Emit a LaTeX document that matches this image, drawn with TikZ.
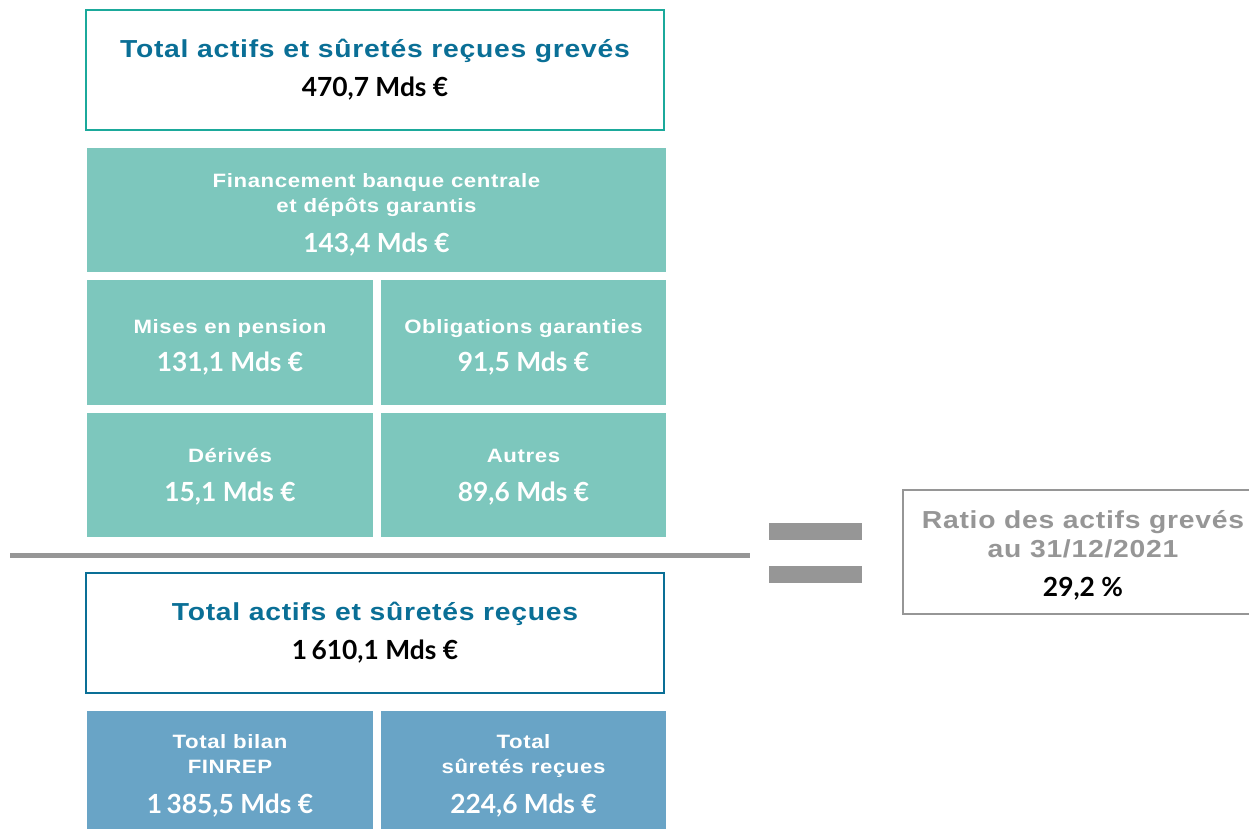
\documentclass[tikz,border=0pt]{standalone}
\usepackage{fontspec}
\setmainfont{Liberation Sans}
\newfontfamily\numfont{Lato}
\newfontfamily\widefont[FakeStretch=1.15, LetterSpace=3]{Liberation Sans}
\usetikzlibrary{positioning}
\definecolor{tealline}{RGB}{27,169,155}
\definecolor{tealfill}{RGB}{125,199,189}
\definecolor{bnpblue}{RGB}{10,111,150}
\definecolor{bluefill}{RGB}{105,164,198}
\definecolor{ratiogray}{RGB}{150,150,150}

\tikzset{
  totalbox/.style={rectangle, draw=#1, line width=1pt, fill=white,
    minimum width=11.56cm, minimum height=2.4cm, align=center, inner sep=0pt},
  partbox/.style={rectangle, fill=#1, inner sep=0pt},
  labtxt/.style={text=white, align=center, inner sep=0pt, yshift=-0.09cm,
    font=\widefont\fontsize{11}{14.5}\selectfont\bfseries},
}
\newcommand{\headline}[2]{{\color{#1}\widefont\fontsize{14}{17}\selectfont\bfseries #2}}
\newcommand{\amount}[1]{{\numfont\fontsize{15}{18}\selectfont\bfseries #1}}

\begin{document}
\begin{tikzpicture}[x=0.02cm, y=-0.02cm]
  \useasboundingbox[fill=white] (0,0) rectangle (1249,829);

  % encumbered assets
  \node[totalbox=tealline] (encumb) at (375,70) {
    \headline{bnpblue}{Total actifs et sûretés reçues grevés}\\[7pt]
    {\color{black}\amount{470,7 Mds €}}
  };
  \node[partbox=tealfill, minimum width=11.58cm, minimum height=2.48cm] (bcentrale) at (376.5,210) {};
  \node[labtxt] (bcentrale-txt) at (bcentrale) {
    Financement banque centrale\\et dépôts garantis\\[8pt]
    \amount{143,4 Mds €}
  };
  \node[partbox=tealfill, minimum width=5.72cm, minimum height=2.5cm] (pension) at (230,342.5) {};
  \node[labtxt] (pension-txt) at (pension) {Mises en pension\\[7pt]\amount{131,1 Mds €}};
  \node[partbox=tealfill, minimum width=5.7cm, minimum height=2.5cm] (oblig) at (523.5,342.5) {};
  \node[labtxt] (oblig-txt) at (oblig) {Obligations garanties\\[7pt]\amount{91,5 Mds €}};
  \node[partbox=tealfill, minimum width=5.72cm, minimum height=2.48cm] (derives) at (230,475) {};
  \node[labtxt, yshift=0.05cm] (derives-txt) at (derives) {Dérivés\\[8pt]\amount{15,1 Mds €}};
  \node[partbox=tealfill, minimum width=5.7cm, minimum height=2.48cm] (autres) at (523.5,475) {};
  \node[labtxt, yshift=0.05cm] (autres-txt) at (autres) {Autres\\[8pt]\amount{89,6 Mds €}};

  % fraction bar and equals sign
  \fill[ratiogray] (10,552.5) rectangle (750,557.5);
  \fill[ratiogray] (769,523) rectangle (862,540);
  \fill[ratiogray] (769,566) rectangle (862,583);

  % total assets
  \node[totalbox=bnpblue] (total) at (375,633) {
    \headline{bnpblue}{Total actifs et sûretés reçues}\\[7pt]
    {\color{black}\amount{1\,610,1 Mds €}}
  };
  \node[partbox=bluefill, minimum width=5.72cm, minimum height=2.4cm] (finrep) at (230,771) {};
  \node[labtxt] (finrep-txt) at (finrep) {Total bilan\\FINREP\\[8pt]\amount{1\,385,5 Mds €}};
  \node[partbox=bluefill, minimum width=5.7cm, minimum height=2.4cm] (suretes) at (523.5,771) {};
  \node[labtxt] (suretes-txt) at (suretes) {Total\\sûretés reçues\\[8pt]\amount{224,6 Mds €}};

  % ratio
  \node[rectangle, draw=ratiogray, line width=1pt, minimum width=7.2cm, minimum height=2.48cm,
        inner sep=0pt] (ratio) at (1083,552) {};
  \node[align=center, inner sep=0pt, yshift=-0.06cm] (ratio-txt) at (ratio) {
    \headline{ratiogray}{Ratio des actifs grevés}\\[2.5pt]
    \headline{ratiogray}{au 31/12/2021}\\[10pt]
    {\color{black}\amount{29,2 \%}}
  };
\end{tikzpicture}
\end{document}
